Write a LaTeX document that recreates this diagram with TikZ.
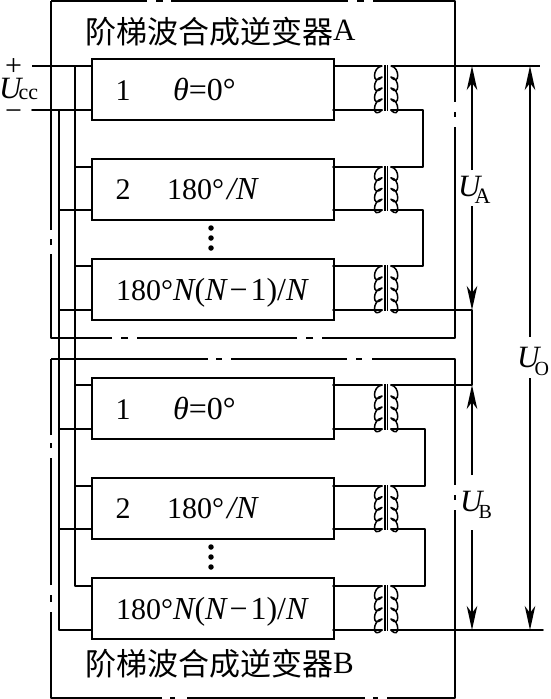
\documentclass[tikz,border=0pt]{standalone}
\usepackage{fontspec}
\setmainfont{Liberation Serif}
\newfontfamily\cjkfont{Noto Sans CJK SC}
\usetikzlibrary{arrows.meta}
\tikzset{
  wire/.style={line width=1.8pt,line cap=round,line join=round},
  thinwire/.style={line width=1.1pt},
  frameline/.style={line width=1.9pt,line cap=butt,line join=round},
  unitbox/.style={draw,line width=2.1pt,minimum width=242pt,minimum height=61pt,anchor=north west,inner sep=0pt},
  coil/.style={line width=1.5pt,line cap=round},
  core/.style={line width=1.1pt},
  volt/.style={line width=1.6pt,-{Stealth[length=24pt,width=10.5pt,inset=7pt]}},
  lbl/.style={inner sep=0pt,anchor=base west,font=\fontsize{30}{30}\selectfont},
  ulbl/.style={inner sep=0pt,anchor=base west,font=\fontsize{31}{31}\selectfont},
  ttl/.style={inner sep=0pt,anchor=base west,font=\fontsize{31}{31}\selectfont},
  vdot/.style={circle,fill=black,inner sep=0pt,minimum size=5.5pt},
}
\newcommand{\Ulabel}[4]{{\itshape U}\kern#1pt\raisebox{#3pt}{\fontsize{#4}{#4}\selectfont #2}}
\newcommand{\bigsz}{\fontsize{32}{32}\selectfont}
\begin{document}
\begin{tikzpicture}[x=1pt,y=-1pt]
\useasboundingbox (0,0) rectangle (551,699);
% outer frames
\draw[frameline] (51,1)--(147,1) (156,1)--(163,1) (171,1)--(348,1) (357,1)--(364,1) (373,1)--(455,1)--(455,102)
  (455,112)--(455,117) (455,127)--(455,338)--(322,338) (313,338)--(306,338) (297,338)--(137,338)
  (128,338)--(121,338) (112,338)--(51,338)--(51,254) (51,245)--(51,239) (51,230)--(51,1);
\draw[frameline] (51,359)--(208,359) (216,359)--(222,359) (231,359)--(347,359) (356,359)--(362,359) (372,359)--(455,359)--(455,485)
  (455,495)--(455,500) (455,510)--(455,698)--(387,698) (378,698)--(373,698) (365,698)--(187,698)
  (175,698)--(170,698) (162,698)--(51,698)--(51,612) (51,602)--(51,595) (51,585)--(51,458) (51,448)--(51,443) (51,435)--(51,359);
% units
\foreach \n/\t/\ya/\yb in {a1/58/66/110,a2/158/167/210,a3/258/266/310,b1/377/385/429,b2/477/486/529,b3/577/586/630}{
  \node[unitbox] (\n) at (91,\t) {};
  \coordinate (\n-in) at (91,\ya);
  \coordinate (\n-inb) at (91,\yb);
  \coordinate (\n-out) at (333,\ya);
  \coordinate (\n-outb) at (333,\yb);
  \coordinate (\n-pt) at (382,\ya);
  \coordinate (\n-pb) at (382,\yb);
  \coordinate (\n-st) at (391,\ya);
  \coordinate (\n-sb) at (391,\yb);
  % transformer
  \pgfmathsetmacro{\st}{(\yb-\ya)/4}
  \draw[coil] (\n-pt) foreach \k in {0,1,2,3}{
     .. controls +(-10,1) and +(-10,\st-1) .. +(0,\st) coordinate (aux) (aux) };
  \draw[coil] (\n-st) foreach \k in {0,1,2,3}{
     .. controls +(9,1) and +(9,\st-1) .. +(0,\st) coordinate (aux) (aux) };
  \draw[core] (385,\ya-1) -- (385,\yb+1) (387.6,\ya-1) -- (387.6,\yb+1);
  % primary wires
  \draw[wire] (\n-outb) -- (\n-pb);
}
% rails and buses
\coordinate (busU) at (75,66);
\coordinate (busL) at (59,110);
\coordinate (plus) at (32,66);
\coordinate (minus) at (32,110);
\coordinate (railR) at (540,66);
\coordinate (railB) at (543,630);
\draw[thinwire] (plus) -- (a1-in) (a1-out) -- (a1-pt) (a1-st) -- (railR);
\draw[wire] (minus) -- (a1-inb);
\draw[wire] (busU) -- (busU |- b3-in) -- (b3-in);
\draw[wire] (busL) -- (busL |- b3-inb) -- (b3-inb);
\draw[wire] (busU |- a2-in) -- (a2-in) (busU |- a3-in) -- (a3-in) (busU |- b1-in) -- (b1-in) (busU |- b2-in) -- (b2-in);
\draw[thinwire] (busL |- a2-inb) -- (a2-inb);
\draw[wire] (busL |- a3-inb) -- (a3-inb) (busL |- b1-inb) -- (b1-inb) (busL |- b2-inb) -- (b2-inb);
\draw[wire] (a2-out) -- (a2-pt) (a3-out) -- (a3-pt) (b1-out) -- (b1-pt) (b2-out) -- (b2-pt) (b3-out) -- (b3-pt);
% secondaries
\coordinate (xA) at (423,0);
\coordinate (xB) at (425,0);
\coordinate (vAB) at (472,0);
\coordinate (vO) at (530,0);
\draw[wire] (a1-sb) -- (a1-sb -| xA) -- (a2-st -| xA) -- (a2-st);
\draw[wire] (a2-sb) -- (a2-sb -| xA) -- (a3-st -| xA) -- (a3-st);
\draw[wire] (b1-sb) -- (b1-sb -| xB) -- (b2-st -| xB) -- (b2-st);
\draw[wire] (b2-sb) -- (b2-sb -| xB) -- (b3-st -| xB) -- (b3-st);
\draw[wire] (a3-sb) -- (a3-sb -| vAB) -- (b1-st -| vAB) -- (b1-st);
\draw[wire] (b3-sb) -- (railB);
% voltage arrows
\coordinate (ua1) at (472,170);
\coordinate (ua2) at (472,206);
\coordinate (ub1) at (472,475);
\coordinate (ub2) at (472,530);
\coordinate (uo1) at (530,337);
\coordinate (uo2) at (530,378);
\draw[volt] (ua1) -- (a1-st -| ua1);
\draw[volt] (ua2) -- (a3-sb -| ua2);
\draw[volt] (ub1) -- (b1-st -| ub1);
\draw[volt] (ub2) -- (b3-sb -| ub2);
\draw[volt] (uo1) -- (a1-st -| uo1);
\draw[volt] (uo2) -- (b3-sb -| uo2);
% unit texts
\foreach \d/\n in {0/a,319/b}{
  \node[lbl] (\n-one) at (115.5,100+\d) {1};
  \node[lbl] (\n-theta) at (173,100+\d) {\bigsz{\itshape θ}=0°};
  \node[lbl] (\n-two) at (115.5,199+\d) {2};
  \node[lbl] (\n-phase) at (167,199+\d) {180°\kern3pt{\bigsz\itshape /N}};
  \node[lbl] (\n-last) at (116,300+\d) {180°{\bigsz{\itshape N}({\itshape N}\kern3pt−\kern3pt1)/{\itshape N}}};
  \node[vdot] (\n-d1) at (211,228+\d) {};
  \node[vdot] (\n-d2) at (211,238+\d) {};
  \node[vdot] (\n-d3) at (211,248+\d) {};
}
% titles
\node[ttl] (titleA) at (85,43) {{\cjkfont 阶梯波合成逆变器}\raisebox{3pt}{A}};
\node[ttl] (titleB) at (85,675) {{\cjkfont 阶梯波合成逆变器}\raisebox{2pt}{B}};
% terminal and voltage labels
\node[lbl] (lplus) at (5,75) {+};
\node[lbl] (lminus) at (5,120) {−};
\node[ulbl] (lUcc) at (-1,98.5) {\Ulabel{-3}{cc}{-0.5}{22}};
\node[ulbl] (lUA) at (458,196) {\Ulabel{-6}{A}{-7.5}{22}};
\node[ulbl] (lUB) at (460,511) {\Ulabel{-4}{B}{-7.5}{20}};
\node[ulbl] (lUO) at (517,367) {\Ulabel{-5}{O}{-8}{20}};
\end{tikzpicture}
\end{document}
